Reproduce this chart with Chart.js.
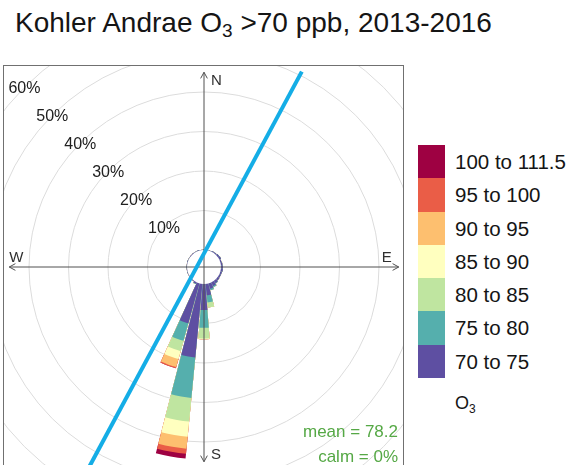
<!DOCTYPE html>
<html>
<head>
<meta charset="utf-8">
<script src="https://cdn.jsdelivr.net/npm/chart.js@4.4.1/dist/chart.umd.min.js"></script>
<style>
  html, body { margin:0; padding:0; background:#fff; width:570px; height:465px; overflow:hidden;
    font-family:"Liberation Sans", Arial, sans-serif; }
  #title { position:absolute; left:15px; top:9px; font-size:28px; line-height:27px; color:#151515; white-space:nowrap; }
  #title sub { font-size:19px; line-height:0; vertical-align:baseline; position:relative; top:5px; }
  #box { position:absolute; left:3px; top:65px; width:401px; height:404px; border:1px solid #707070;
    box-sizing:border-box; overflow:hidden; background:#fff; }
  #c { position:absolute; left:-54px; top:-53px; }
  .stat { position:absolute; right:5px; font-size:17px; line-height:17px; color:#55a845; white-space:nowrap; }
  #legend { position:absolute; left:418px; top:145px; }
  .row { position:relative; height:33.3px; }
  .sw { position:absolute; left:0; top:0; width:27px; height:33.4px; }
  .lab { position:absolute; left:37px; top:0; height:33.3px; line-height:33.3px; font-size:20.5px; color:#151515; white-space:nowrap; }
  #pol { position:absolute; left:455px; top:393px; font-size:18px; color:#151515; }
  #pol sub { font-size:12px; line-height:0; vertical-align:baseline; position:relative; top:4px; }
</style>
</head>
<body>
<div id="title">Kohler Andrae O<sub>3</sub> &gt;70 ppb, 2013-2016</div>
<div id="box">
  <canvas id="c" width="508" height="508"></canvas>
  <div class="stat" style="top:357px">mean = 78.2</div>
  <div class="stat" style="top:382px">calm = 0%</div>
</div>
<div id="legend"></div>
<div id="pol">O<sub>3</sub></div>
<script>
// ---- data (percent of hours, by wind direction sector and O3 bin) ----
const DIRECTIONS = [0,10,20,30,40,50,60,70,80,90,100,110,120,130,140,150,160,170,
                    180,190,200,210,220,230,240,250,260,270,280,290,300,310,320,330,340,350];
const BIN_LABELS = ["70 to 75","75 to 80","80 to 85","85 to 90","90 to 95","95 to 100","100 to 111.5"];
const o3_70_75   = [0.1,0.15,0.1,0.2,0.25,0.4,0.5,0.3,0.4,0.5,0.5,0.4,0.4,0.5,0.7,1.0,1.4,2.9,
                    6.6,18.7,10.5,0.4,0.15,0.1,0.1,0.1,0.1,0.15,0.1,0.15,0.1,0.1,0.15,0.1,0.15,0.1];
const o3_75_80   = [0,0,0,0,0,0,0,0,0,0,0,0,0,0,0.1,0.3,0.4,1.8,
                    4.5,10.3,4.6,0.1,0,0,0,0,0,0,0,0,0,0,0,0,0,0];
const o3_80_85   = [0,0,0,0,0,0,0,0,0,0,0,0,0,0,0,0,0,1.3,
                    2.7,6.0,2.7,0,0,0,0,0,0,0,0,0,0,0,0,0,0,0];
const o3_85_90   = [0,0,0,0,0,0,0,0,0,0,0,0,0,0,0,0,0,0,
                    0.2,3.9,2.1,0,0,0,0,0,0,0,0,0,0,0,0,0,0,0];
const o3_90_95   = [0,0,0,0,0,0,0,0,0,0,0,0,0,0,0,0,0,0,
                    0,3.0,2.1,0,0,0,0,0,0,0,0,0,0,0,0,0,0,0];
const o3_95_100  = [0,0,0,0,0,0,0,0,0,0,0,0,0,0,0,0,0,0,
                    0,1.3,0.3,0,0,0,0,0,0,0,0,0,0,0,0,0,0,0];
const o3_100_112 = [0,0,0,0,0,0,0,0,0,0,0,0,0,0,0,0,0,0,
                    0,1.2,0,0,0,0,0,0,0,0,0,0,0,0,0,0,0,0];
const RING_TICKS = [10,20,30,40,50,60];
const AXIS_LABELS = ["N","E","S","W"];
// annotation line: [bearing (deg), distance (%)] of its two ends
const ANNOT_LINE = [[26.6, 51.0], [209.8, 56.4]];

// ---- styling / layout constants ----
const COLORS = ["#5E4FA2","#55AFAD","#BFE5A0","#FFFFBF","#FDBF6F","#EA5D47","#9E0142"];
const HOLE_PCT = 4.3, SCALE_MAX = 60, AXIS_PCT = 45, WEDGE_DEG = 9, SECTOR_DEG = 10;

const BINS = [o3_70_75, o3_75_80, o3_80_85, o3_85_90, o3_90_95, o3_95_100, o3_100_112];

// cumulative stacks, interleaved with empty gap slices
const labels = [];
DIRECTIONS.forEach(d => { labels.push(String(d)); labels.push(""); });
const datasets = BINS.map((bin, b) => {
  const data = [];
  DIRECTIONS.forEach((d, i) => {
    let cum = 0;
    for (let k = 0; k <= b; k++) cum += BINS[k][i];
    data.push(+cum.toFixed(3));
    data.push(null);
  });
  return {
    label: BIN_LABELS[b],
    data,
    backgroundColor: COLORS[b],
    borderWidth: 0,
    angle: (c) => (c.dataIndex % 2 === 0 ? WEDGE_DEG : SECTOR_DEG - WEDGE_DEG)
  };
});

const overlay = {
  id: 'overlay',
  afterDatasetsDraw(chart) {
    const ctx = chart.ctx, s = chart.scales.r;
    const cx = s.xCenter, cy = s.yCenter;
    const R = v => s.getDistanceFromCenterForValue(v);
    const pt = (bearing, v) => {
      const a = (bearing - 90) * Math.PI / 180, r = R(v);
      return [cx + r * Math.cos(a), cy + r * Math.sin(a)];
    };
    ctx.save();
    // hole
    ctx.fillStyle = '#fff';
    ctx.beginPath(); ctx.arc(cx, cy, R(0), 0, 2 * Math.PI); ctx.fill();
    // ring labels
    ctx.font = '16px "Liberation Sans", Arial, sans-serif';
    ctx.fillStyle = '#202020'; ctx.textAlign = 'center'; ctx.textBaseline = 'middle';
    RING_TICKS.forEach(t => { const p = pt(315, t); ctx.fillText(t + '%', p[0], p[1] + 1.5); });
    // axes with arrows
    ctx.strokeStyle = '#505050'; ctx.lineWidth = 1;
    const arrow = (b) => {
      const [x, y] = pt(b, AXIS_PCT);
      const a = (b - 90) * Math.PI / 180;
      ctx.beginPath();
      ctx.moveTo(x - 7 * Math.cos(a - 0.5), y - 7 * Math.sin(a - 0.5));
      ctx.lineTo(x, y);
      ctx.lineTo(x - 7 * Math.cos(a + 0.5), y - 7 * Math.sin(a + 0.5));
      ctx.stroke();
    };
    [[0, 180], [270, 90]].forEach(([b1, b2]) => {
      const p1 = pt(b1, AXIS_PCT), p2 = pt(b2, AXIS_PCT);
      ctx.beginPath(); ctx.moveTo(p1[0], p1[1]); ctx.lineTo(p2[0], p2[1]); ctx.stroke();
      arrow(b1); arrow(b2);
    });
    ctx.font = '15px "Liberation Sans", Arial, sans-serif';
    ctx.fillStyle = '#303030';
    const ax = R(AXIS_PCT);
    ctx.textAlign = 'left'; ctx.textBaseline = 'top';
    ctx.fillText(AXIS_LABELS[0], cx + 7, cy - ax + 1);
    ctx.textBaseline = 'bottom';
    ctx.fillText(AXIS_LABELS[2], cx + 7, cy + ax + 1);
    ctx.textBaseline = 'alphabetic';
    ctx.fillText(AXIS_LABELS[3], cx - ax, cy - 5);
    ctx.textAlign = 'right';
    ctx.fillText(AXIS_LABELS[1], cx + ax - 7, cy - 5);
    // annotation line
    const a1 = pt(ANNOT_LINE[0][0], ANNOT_LINE[0][1]), a2 = pt(ANNOT_LINE[1][0], ANNOT_LINE[1][1]);
    ctx.strokeStyle = '#14ADE6'; ctx.lineWidth = 4; ctx.lineCap = 'butt';
    ctx.beginPath(); ctx.moveTo(a1[0], a1[1]); ctx.lineTo(a2[0], a2[1]); ctx.stroke();
    ctx.restore();
  }
};

new Chart(document.getElementById('c'), {
  type: 'polarArea',
  data: { labels, datasets },
  options: {
    responsive: false,
    animation: false,
    layout: { padding: 0 },
    plugins: { legend: { display: false }, tooltip: { enabled: false } },
    scales: {
      r: {
        min: -HOLE_PCT, max: SCALE_MAX,
        startAngle: -WEDGE_DEG / 2,
        ticks: { display: false, stepSize: 10 },
        grid: { circular: true, lineWidth: 1,
          color: (c) => (c.tick && c.tick.value > 0 ? '#dcdcdc' : 'rgba(0,0,0,0)') },
        angleLines: { display: false },
        pointLabels: { display: false }
      }
    },
    elements: { arc: { borderWidth: 0 } }
  },
  plugins: [overlay]
});

// legend (top = highest bin)
const leg = document.getElementById('legend');
for (let b = BIN_LABELS.length - 1; b >= 0; b--) {
  const row = document.createElement('div'); row.className = 'row';
  const sw = document.createElement('div'); sw.className = 'sw'; sw.style.background = COLORS[b];
  const lab = document.createElement('div'); lab.className = 'lab'; lab.textContent = BIN_LABELS[b];
  row.appendChild(sw); row.appendChild(lab); leg.appendChild(row);
}
</script>
</body>
</html>
